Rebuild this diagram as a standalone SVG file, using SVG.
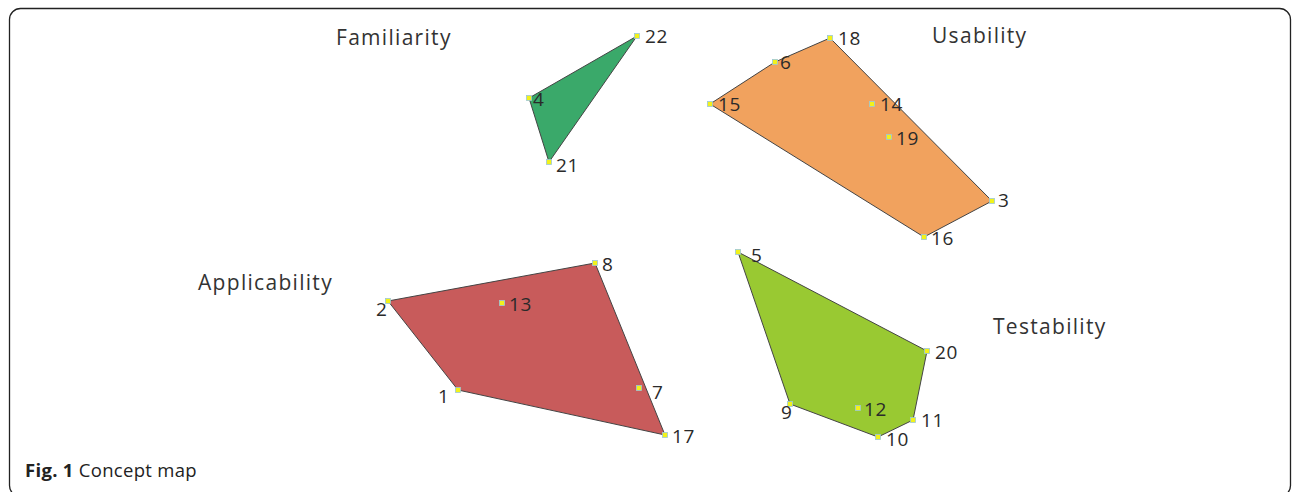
<svg xmlns="http://www.w3.org/2000/svg" width="1292" height="492" viewBox="0 0 1292 492">
<style>
.poly{stroke:#444;stroke-width:1}
.pt{fill:#f2f21a;stroke:#9cc8d8;stroke-width:0.8}
.num{font-family:"Open Sans","Liberation Sans",sans-serif;font-size:19px;letter-spacing:0.6px;fill:#2a2a2a}
.cat{font-family:"Open Sans","Liberation Sans",sans-serif;font-size:21px;letter-spacing:1.3px;fill:#333}
.cap{font-family:"Open Sans","Liberation Sans",sans-serif;font-size:18.5px;letter-spacing:0.3px;fill:#222}
</style>
<rect x="9.5" y="8.5" width="1281" height="488" rx="11" fill="#fff" stroke="#222" stroke-width="1.3"/>
<g id="familiarity">
<polygon class="poly" points="637,36 529,98 549,162" fill="#3aa96a"/>
<text class="cat" x="336" y="45">Familiarity</text>
<rect class="pt" x="634.5" y="33.5" width="5" height="5"/><text class="num" x="645" y="43">22</text>
<rect class="pt" x="526.5" y="95.5" width="5" height="5"/><text class="num" x="533" y="106">4</text>
<rect class="pt" x="546.5" y="159.5" width="5" height="5"/><text class="num" x="556" y="172">21</text>
</g>
<g id="usability">
<polygon class="poly" points="830,38 992,201 924,237 710,104 775,62" fill="#f1a25e"/>
<text class="cat" x="932" y="43">Usability</text>
<rect class="pt" x="827.5" y="35.5" width="5" height="5"/><text class="num" x="838" y="45">18</text>
<rect class="pt" x="772.5" y="59.5" width="5" height="5"/><text class="num" x="780" y="69">6</text>
<rect class="pt" x="707.5" y="101.5" width="5" height="5"/><text class="num" x="718" y="111">15</text>
<rect class="pt" x="869.5" y="101.5" width="5" height="5"/><text class="num" x="880" y="111">14</text>
<rect class="pt" x="886.5" y="134.5" width="5" height="5"/><text class="num" x="896" y="145">19</text>
<rect class="pt" x="989.5" y="198.5" width="5" height="5"/><text class="num" x="998" y="207">3</text>
<rect class="pt" x="921.5" y="234.5" width="5" height="5"/><text class="num" x="931" y="245">16</text>
</g>
<g id="applicability">
<polygon class="poly" points="388,301 595,263 665,435 458,390" fill="#c85b5b"/>
<text class="cat" x="198" y="290">Applicability</text>
<rect class="pt" x="592.5" y="260.5" width="5" height="5"/><text class="num" x="602" y="271">8</text>
<rect class="pt" x="385.5" y="298.5" width="5" height="5"/><text class="num" x="376" y="316">2</text>
<rect class="pt" x="499.5" y="300.5" width="5" height="5"/><text class="num" x="509" y="311">13</text>
<rect class="pt" x="455.5" y="387.5" width="5" height="5"/><text class="num" x="438" y="403">1</text>
<rect class="pt" x="636.5" y="385.5" width="5" height="5"/><text class="num" x="652" y="399">7</text>
<rect class="pt" x="662.5" y="432.5" width="5" height="5"/><text class="num" x="672" y="443">17</text>
</g>
<g id="testability">
<polygon class="poly" points="738,252 927,351 913,420 878,437 790,404" fill="#99c932"/>
<text class="cat" x="993" y="334">Testability</text>
<rect class="pt" x="735.5" y="249.5" width="5" height="5"/><text class="num" x="751" y="262">5</text>
<rect class="pt" x="924.5" y="348.5" width="5" height="5"/><text class="num" x="935" y="359">20</text>
<rect class="pt" x="910.5" y="417.5" width="5" height="5"/><text class="num" x="921" y="427">11</text>
<rect class="pt" x="875.5" y="434.5" width="5" height="5"/><text class="num" x="886" y="446">10</text>
<rect class="pt" x="787.5" y="401.5" width="5" height="5"/><text class="num" x="781" y="419">9</text>
<rect class="pt" x="855.5" y="405.5" width="5" height="5"/><text class="num" x="864" y="416">12</text>
</g>
<g id="connectors"></g>
<text class="cap" x="25" y="477"><tspan font-weight="bold">Fig. 1</tspan> Concept map</text>
</svg>
